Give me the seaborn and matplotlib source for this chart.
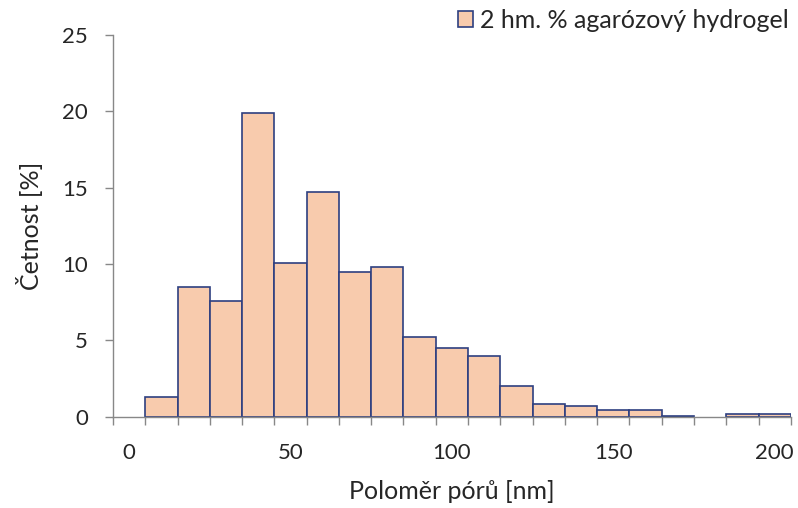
import numpy as np
import pandas as pd
import matplotlib
matplotlib.use("Agg")
import matplotlib.pyplot as plt
import seaborn as sns
from matplotlib.ticker import MultipleLocator, FixedLocator

# Data
radius_nm = [10, 20, 30, 40, 50, 60, 70, 80, 90, 100,
             110, 120, 130, 140, 150, 160, 170, 180, 190, 200]
frequency_pct = [1.3, 8.5, 7.6, 19.9, 10.1, 14.7, 9.5, 9.8, 5.2, 4.5,
                 4.0, 2.0, 0.8, 0.7, 0.45, 0.45, 0.07, 0.0, 0.2, 0.2]
series_label = "2 hm. % agarózový hydrogel"
x_label = "Poloměr pórů [nm]"
y_label = "Četnost [%]"

df = pd.DataFrame({"r": radius_nm, "f": frequency_pct})

sns.set_style("white")
plt.rcParams["font.family"] = ["Lato", "DejaVu Sans"]

fig = plt.figure(figsize=(7.98, 5.08), dpi=100)
ax = fig.add_axes([0.1416, 0.1797, 0.8494, 0.7513])

sns.histplot(data=df, x="r", weights="f", binwidth=10, binrange=(5, 205), ax=ax,
             color="#F8CBAD", alpha=1.0, edgecolor="#2E3F80", linewidth=1.2,
             label=series_label)
for p in ax.patches:
    if p.get_height() == 0:
        p.set_edgecolor("none")

ax.set_xlim(-5, 205)
ax.set_ylim(0, 25)
ax.yaxis.set_major_locator(MultipleLocator(5))
ax.xaxis.set_major_locator(MultipleLocator(50))
ax.xaxis.set_minor_locator(FixedLocator(np.arange(-5, 215, 10)))
ax.tick_params(axis="x", which="major", bottom=True, length=0, pad=19,
               labelsize=16, labelcolor="#262626")
ax.tick_params(axis="x", which="minor", bottom=True, length=6, width=1,
               color="#888888", direction="out")
ax.tick_params(axis="y", which="major", left=True, length=6, width=1, color="#888888",
               direction="out", pad=12, labelsize=16, labelcolor="#262626")

for s in ["top", "right"]:
    ax.spines[s].set_visible(False)
for s in ["left", "bottom"]:
    ax.spines[s].set_color("#888888")
    ax.spines[s].set_linewidth(1.0)

ax.set_xlabel(x_label, fontsize=18, color="#262626", labelpad=12)
ax.set_ylabel(y_label, fontsize=18, color="#262626", labelpad=14)

ax.legend(loc="upper right", bbox_to_anchor=(1.0, 1.0), bbox_transform=fig.transFigure,
          frameon=False, fontsize=18, handlelength=0.6, handleheight=0.6,
          handletextpad=0.3, borderaxespad=0.0, borderpad=0.35)

fig.savefig("out.png", dpi=100)
